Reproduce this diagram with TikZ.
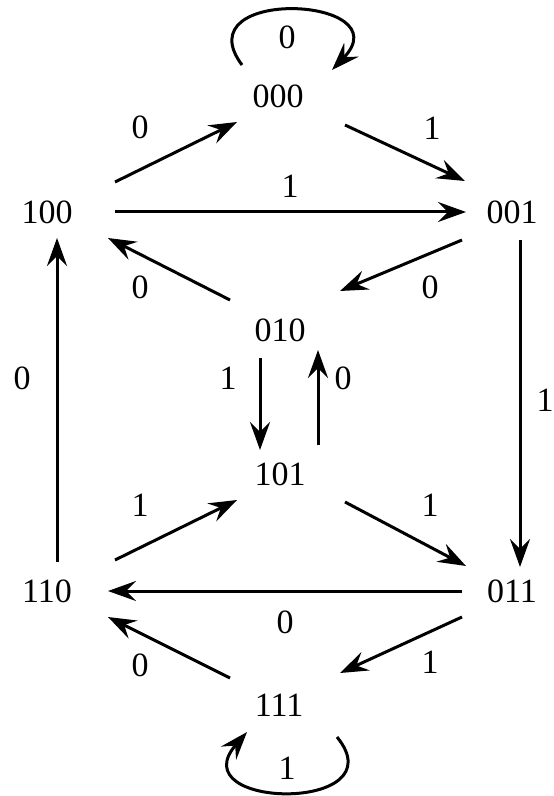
\documentclass[tikz,border=0pt]{standalone}
\usepackage{fontspec}
\setmainfont{Liberation Serif}
\usetikzlibrary{arrows.meta}

\begin{document}
\begin{tikzpicture}[x=0.5pt, y=-0.5pt, >={Stealth[length=14pt, width=10pt, inset=5pt]},
    state/.style={font=\fontsize{17}{20}\selectfont, inner sep=0pt},
    lbl/.style={font=\fontsize{17}{20}\selectfont, inner sep=0pt},
    tr/.style={->, line width=1.5pt}]
    \useasboundingbox (0,0) rectangle (553,796);
    % states
    \node[state] (s000) at (278,96) {000};
    \node[state] (s100) at (47,212) {100};
    \node[state] (s001) at (512,212) {001};
    \node[state] (s010) at (280,330) {010};
    \node[state] (s101) at (280,474) {101};
    \node[state] (s110) at (47,591) {110};
    \node[state] (s011) at (512,591) {011};
    \node[state] (s111) at (279,705) {111};
    % transitions
    \draw[tr] ([shift={(-36,-31)}]s000.center) .. controls ([shift={(-95,-110)}]s000.center) and ([shift={(125,-100)}]s000.center) .. ([shift={(54,-26)}]s000.center)
        node[lbl] (t1) at (287,37) {0};
    \draw[tr] ([shift={(68,-30)}]s100.center) -- ([shift={(-41,26)}]s000.center)
        node[lbl] (t2) at (140,127) {0};
    \draw[tr] ([shift={(67,29)}]s000.center) -- ([shift={(-47,-31)}]s001.center)
        node[lbl] (t3) at (432,128) {1};
    \draw[tr] ([shift={(68,0)}]s100.center) -- ([shift={(-46,0)}]s001.center)
        node[lbl] (t4) at (290,186) {1};
    \draw[tr] ([shift={(-50,28)}]s001.center) -- ([shift={(60,-39)}]s010.center)
        node[lbl] (t5) at (430,287) {0};
    \draw[tr] ([shift={(-50,-30)}]s010.center) -- ([shift={(61,26)}]s100.center)
        node[lbl] (t6) at (140,287) {0};
    \draw[tr] ([shift={(-20,28)}]s010.center) -- ([shift={(-20,-24)}]s101.center)
        node[lbl] (t7) at (228,378) {1};
    \draw[tr] ([shift={(38,-29)}]s101.center) -- ([shift={(38,20)}]s010.center)
        node[lbl] (t8) at (343,378) {0};
    \draw[tr] ([shift={(8,28)}]s001.center) -- ([shift={(8,-24)}]s011.center)
        node[lbl] (t9) at (545,400) {1};
    \draw[tr] ([shift={(10,-29)}]s110.center) -- ([shift={(10,26)}]s100.center)
        node[lbl] (t10) at (22,378) {0};
    \draw[tr] ([shift={(68,-31)}]s110.center) -- ([shift={(-43,26)}]s101.center)
        node[lbl] (t11) at (140,505) {1};
    \draw[tr] ([shift={(65,28)}]s101.center) -- ([shift={(-46,-25)}]s011.center)
        node[lbl] (t12) at (430,505) {1};
    \draw[tr] ([shift={(-50,0)}]s011.center) -- ([shift={(61,0)}]s110.center)
        node[lbl] (t13) at (285,622) {0};
    \draw[tr] ([shift={(-50,26)}]s011.center) -- ([shift={(61,-32)}]s111.center)
        node[lbl] (t14) at (430,662) {1};
    \draw[tr] ([shift={(-49,-27)}]s111.center) -- ([shift={(61,26)}]s110.center)
        node[lbl] (t15) at (140,665) {0};
    \draw[tr] ([shift={(58,32)}]s111.center) .. controls ([shift={(120,108)}]s111.center) and ([shift={(-100,105)}]s111.center) .. ([shift={(-32,27)}]s111.center)
        node[lbl] (t16) at (287,768) {1};
\end{tikzpicture}
\end{document}
